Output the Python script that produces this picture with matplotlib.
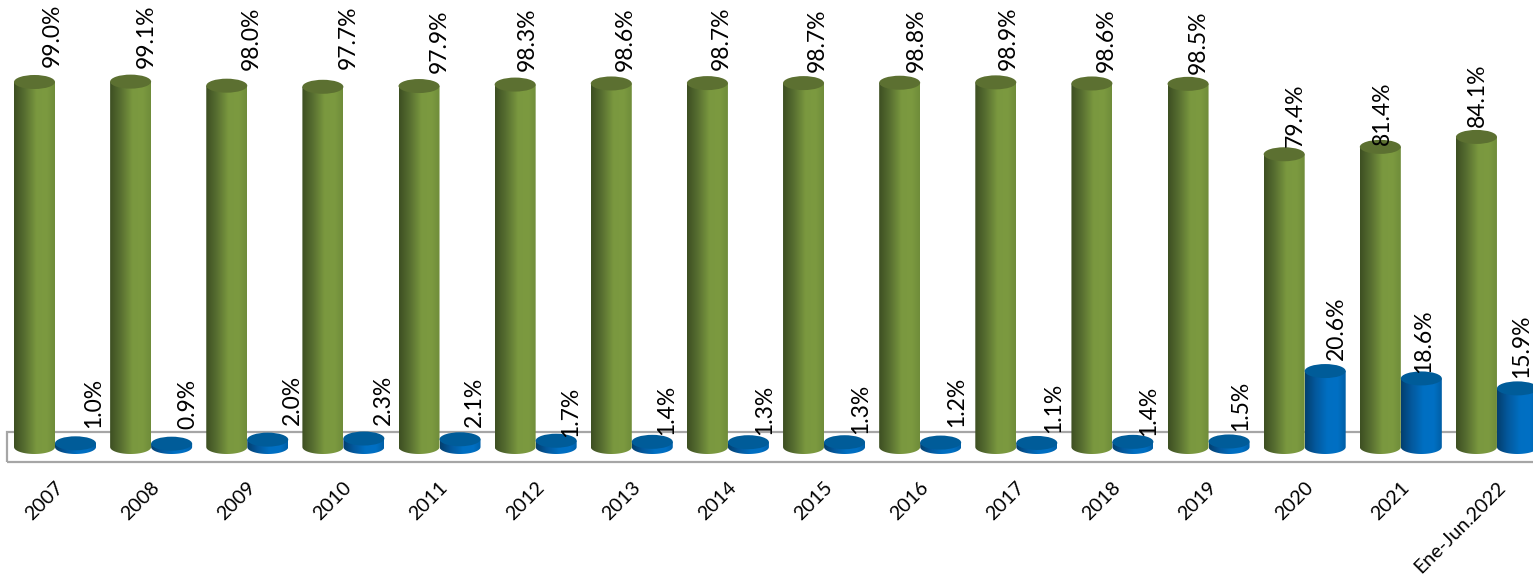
import numpy as np
import matplotlib
matplotlib.use("Agg")
import matplotlib.pyplot as plt
from matplotlib.patches import Ellipse, PathPatch, Rectangle
from matplotlib.path import Path
from matplotlib.colors import LinearSegmentedColormap

categories = ["2007", "2008", "2009", "2010", "2011", "2012", "2013", "2014",
              "2015", "2016", "2017", "2018", "2019", "2020", "2021", "Ene-Jun.2022"]
green_values = [99.0, 99.1, 98.0, 97.7, 97.9, 98.3, 98.6, 98.7,
                98.7, 98.8, 98.9, 98.6, 98.5, 79.4, 81.4, 84.1]
blue_values = [1.0, 0.9, 2.0, 2.3, 2.1, 1.7, 1.4, 1.3,
               1.3, 1.2, 1.1, 1.4, 1.5, 20.6, 18.6, 15.9]

# layout (pixels)
W, H = 1533, 574
X0, DX = 34.5, 96.13      # first green centre, category spacing
Y0, PPU = 447.0, 3.687    # baseline pixel, pixels per percent
BAR_PX, ELL_PX = 41.0, 14.0

plt.rcParams["font.family"] = ["Lato", "DejaVu Sans"]
fig = plt.figure(figsize=(W / 100, H / 100), dpi=100)
ax = fig.add_axes([0, 0, 1, 1])
xlim = (-X0 / DX, (W - X0) / DX)
ylim = (-(H - Y0) / PPU, Y0 / PPU)

bw = BAR_PX / DX
eh = ELL_PX / PPU

green_cmap = LinearSegmentedColormap.from_list(
    "g", [(0, "#3d4f22"), (0.25, "#566d30"), (0.55, "#7a983f"), (0.8, "#7c9a40"), (1, "#6f8c3a")])
blue_cmap = LinearSegmentedColormap.from_list(
    "b", [(0, "#033f6e"), (0.25, "#04589c"), (0.55, "#006fc2"), (0.8, "#0070c4"), (1, "#005fa6")])
grad = np.linspace(0, 1, 128).reshape(1, -1)

# plot-area frame
ax.add_patch(Rectangle((7 / W, 1 - 462 / H), 1.2, 30 / H, transform=ax.transAxes,
                       fill=False, ec="#a6a6a6", lw=1.6, zorder=1, clip_on=True))


def cylinder(xc, value, cmap, top, z):
    left, right = xc - bw / 2, xc + bw / 2
    t = np.linspace(np.pi, 2 * np.pi, 40)
    xs = xc + bw / 2 * np.cos(t)
    ys = eh / 2 * np.sin(t)
    verts = [(left, value)] + list(zip(xs, ys)) + [(right, value), (left, value)]
    codes = [Path.MOVETO] + [Path.LINETO] * (len(verts) - 2) + [Path.CLOSEPOLY]
    clip = PathPatch(Path(verts, codes), transform=ax.transData, fc="none", ec="none")
    ax.add_patch(clip)
    im = ax.imshow(grad, cmap=cmap, aspect="auto", zorder=z, interpolation="bilinear",
                   extent=(left, right, -eh, value + eh))
    im.set_clip_path(clip)
    ax.add_patch(Ellipse((xc, value), bw, eh, fc=top, ec="none", zorder=z + 0.1))


for i, v in enumerate(green_values):
    cylinder(i, v, green_cmap, "#5c7031", 3)
for i, v in enumerate(blue_values):
    cylinder(i + BAR_PX / DX, v, blue_cmap, "#005c99", 4)

# data labels: pixel offsets from the top centre of each cylinder
green_dx = [18, 16, 24, 25, 20, 12, 14, 14, 14, 17, 12, 14, 10, 11, 2, 1]
green_dy = [15, 14, 16, 18, 13, 14, 12, 13, 11, 11, 12, 11, 10, 7, 2, 10]
blue_dx = [18, 16, 25, 19, 14, 14, 14, 16, 16, 16, 17, 16, 12, 11, 2, 4]
blue_dy = [15, 15, 15, 14, 12, 4, 7, 7, 8, 16, 10, 6, 10, 11, 5, 10]

for i, v in enumerate(green_values):
    ax.text(i + green_dx[i] / DX, v + green_dy[i] / PPU, f"{v:.1f}%", rotation=90,
            ha="center", va="bottom", fontsize=16.5, color="black", zorder=6)
for i, v in enumerate(blue_values):
    ax.text(i + BAR_PX / DX + blue_dx[i] / DX, v + blue_dy[i] / PPU, f"{v:.1f}%", rotation=90,
            ha="center", va="bottom", fontsize=16.5, color="black", zorder=6)

# category labels
for i, c in enumerate(categories):
    ax.text(i + 20 / DX, -(479 - Y0) / PPU, c, rotation=45, ha="right", va="top",
            rotation_mode="anchor", fontsize=14.2, color="black", zorder=6)

ax.set_xlim(*xlim)
ax.set_ylim(*ylim)
ax.axis("off")
fig.savefig("out.png", dpi=100, facecolor="white")
